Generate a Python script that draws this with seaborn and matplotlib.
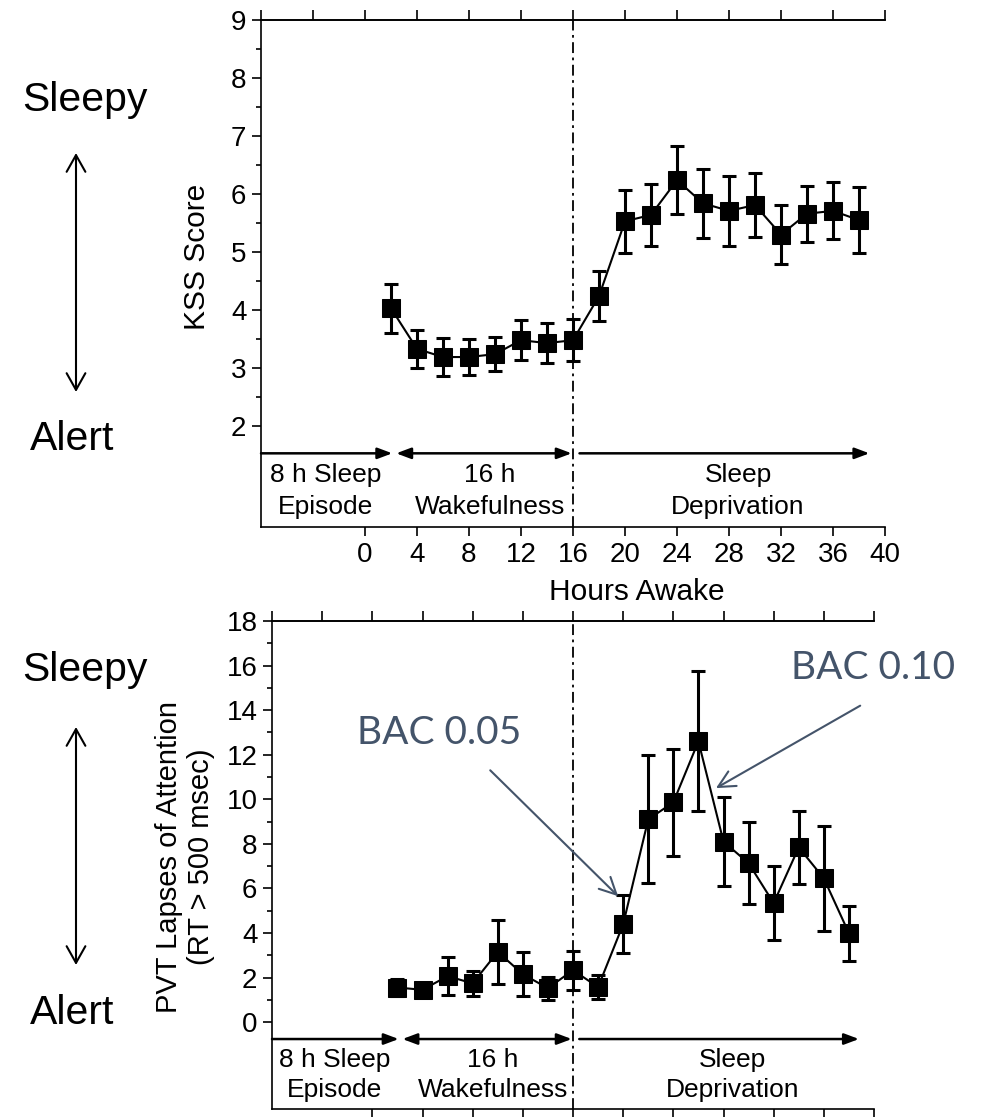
import numpy as np
import pandas as pd
import matplotlib
matplotlib.use("Agg")
import matplotlib.pyplot as plt
from matplotlib.ticker import FixedLocator
import seaborn as sns

# hours awake at each test session
hours = [2, 4, 6, 8, 10, 12, 14, 16, 18, 20, 22, 24, 26, 28, 30, 32, 34, 36, 38]

# Karolinska sleepiness scale, mean and SEM
kss_mean = [4.03, 3.33, 3.19, 3.19, 3.24, 3.48, 3.43, 3.48, 4.24, 5.53,
            5.64, 6.24, 5.84, 5.71, 5.81, 5.30, 5.66, 5.71, 5.55]
kss_err = [0.42, 0.33, 0.32, 0.31, 0.29, 0.34, 0.35, 0.36, 0.43, 0.54,
           0.53, 0.59, 0.59, 0.60, 0.55, 0.51, 0.48, 0.49, 0.57]

# PVT lapses, mean and SEM
pvt_mean = [1.55, 1.45, 2.06, 1.74, 3.15, 2.15, 1.52, 2.33, 1.57, 4.39,
            9.10, 9.86, 12.6, 8.10, 7.13, 5.34, 7.84, 6.45, 3.99]
pvt_err = [0.40, 0.25, 0.85, 0.55, 1.43, 1.00, 0.52, 0.88, 0.55, 1.30,
           2.87, 2.40, 3.14, 1.98, 1.85, 1.67, 1.63, 2.35, 1.24]

kss_ticks = [2, 3, 4, 5, 6, 7, 8, 9]
pvt_ticks = [0, 2, 4, 6, 8, 10, 12, 14, 16, 18]
hour_ticks = [0, 4, 8, 12, 16, 20, 24, 28, 32, 36, 40]

phase_labels = ["8 h Sleep\nEpisode", "16 h\nWakefulness", "Sleep\nDeprivation"]
phase_centers = [-3.0, 9.6, 28.7]
phase_arrows = [(-8, 2.1, "-|>"), (2.4, 15.9, "<|-|>"), (16.5, 38.8, "-|>")]

df = pd.DataFrame({"hours": hours, "kss": kss_mean, "kss_err": kss_err,
                   "pvt": pvt_mean, "pvt_err": pvt_err})

sns.set_style("ticks")
plt.rcParams["font.family"] = ["Liberation Sans", "DejaVu Sans"]
plt.rcParams["axes.linewidth"] = 1.2
for key in ["text.color", "axes.labelcolor", "axes.edgecolor",
            "xtick.color", "ytick.color"]:
    plt.rcParams[key] = "black"

BAC_COLOR = "#44546a"
W, H = 984, 1117
fig = plt.figure(figsize=(W / 100, H / 100), dpi=100)


def draw_panel(ax, col, ymin, ymax, yticks, minor, show_xlabels,
               arrow_y, text_y, spacing):
    sns.lineplot(data=df, x="hours", y=col, ax=ax, color="black", lw=1.5,
                 marker="s", markersize=12.5, markeredgecolor="black",
                 legend=False)
    ax.errorbar(df["hours"], df[col], yerr=df[col + "_err"], fmt="none",
                ecolor="black", elinewidth=2.2, capsize=5, capthick=2.2)
    ax.axvline(16, color="black", lw=1.3, ls=(0, (6, 2.5, 1.5, 2.5)))
    ax.set_xlim(-8, 40)
    ax.set_ylim(ymin, ymax)
    ax.yaxis.set_major_locator(FixedLocator(yticks))
    ax.yaxis.set_minor_locator(FixedLocator(minor))
    ax.set_xticks(hour_ticks)
    if not show_xlabels:
        ax.set_xticklabels([])
    ax.tick_params(which="major", direction="out", length=6.5, width=1.2,
                   labelsize=20, pad=4)
    ax.tick_params(which="minor", direction="out", length=3.5, width=1.2)
    ax.spines["right"].set_visible(False)
    top = ax.secondary_xaxis("top")
    top.set_xticks(list(range(-8, 41, 4)))
    top.set_xticklabels([])
    top.tick_params(direction="out", length=7, width=1.2)
    top.spines["top"].set_linewidth(1.2)
    ax.set_xlabel("")
    # phase arrows and labels
    for x0, x1, style in phase_arrows:
        ax.annotate("", xy=(x1, arrow_y), xytext=(x0, arrow_y),
                    arrowprops=dict(arrowstyle=style + ",head_length=0.8,head_width=0.3",
                                    color="black", lw=1.8, shrinkA=0, shrinkB=0,
                                    mutation_scale=11))
    for xc, lab in zip(phase_centers, phase_labels):
        ax.text(xc, text_y, lab, ha="center", va="center", fontsize=19,
                linespacing=spacing)


ax1 = fig.add_axes([261 / W, 1 - 527 / H, 624 / W, 507 / H])
draw_panel(ax1, "kss", 0.26, 9, kss_ticks, np.arange(2.5, 9, 1.0), True,
           1.53, 0.88, 1.45)
ax1.set_ylabel("KSS Score", fontsize=21.5, va="center")
ax1.yaxis.set_label_coords(-0.1026, 0.5325)
ax1.set_xlabel("Hours Awake", fontsize=21.5, va="center")
ax1.xaxis.set_label_coords(0.6026, -0.128)

ax2 = fig.add_axes([272 / W, 1 - 1109 / H, 602 / W, 488 / H])
draw_panel(ax2, "pvt", -3.9, 18, pvt_ticks, np.arange(1, 18, 2), False,
           -0.76, -2.38, 1.35)
ax2.set_ylabel("PVT Lapses of Attention\n(RT > 500 msec)", fontsize=21,
               va="center", linespacing=1.2)
ax2.yaxis.set_label_coords(-0.1445, 0.516)

# BAC equivalents
ax2.annotate("", xy=(19.6, 5.65), xytext=(9.4, 11.3),
             arrowprops=dict(arrowstyle="->,head_length=0.8,head_width=0.4",
                             color=BAC_COLOR, lw=1.5, shrinkA=0, shrinkB=0,
                             mutation_scale=15))
ax2.annotate("", xy=(27.4, 10.5), xytext=(38.9, 14.2),
             arrowprops=dict(arrowstyle="->,head_length=0.8,head_width=0.4",
                             color=BAC_COLOR, lw=1.5, shrinkA=0, shrinkB=0,
                             mutation_scale=15), annotation_clip=False)
ax2.text(5.3, 12.96, "BAC 0.05", ha="center", va="center", fontsize=28,
         color=BAC_COLOR, family="Lato", clip_on=False)
ax2.text(39.9, 15.9, "BAC 0.10", ha="center", va="center", fontsize=28,
         color=BAC_COLOR, family="Lato", clip_on=False)

# sleepy / alert side scales
for y_sleepy, y_alert, y_a0, y_a1 in [(100, 439, 153, 392), (670, 1013, 727, 965)]:
    fig.text(85 / W, 1 - y_sleepy / H, "Sleepy", ha="center", va="center",
             fontsize=29.5)
    fig.text(72 / W, 1 - y_alert / H, "Alert", ha="center", va="center",
             fontsize=29.5)
    fig.add_artist(matplotlib.patches.FancyArrowPatch(
        (76 / W, 1 - y_a1 / H), (76 / W, 1 - y_a0 / H),
        transform=fig.transFigure,
        arrowstyle="<->,head_length=0.8,head_width=0.45", mutation_scale=15,
        color="black", lw=1.5, shrinkA=0, shrinkB=0))

fig.savefig("out.png", dpi=100)
